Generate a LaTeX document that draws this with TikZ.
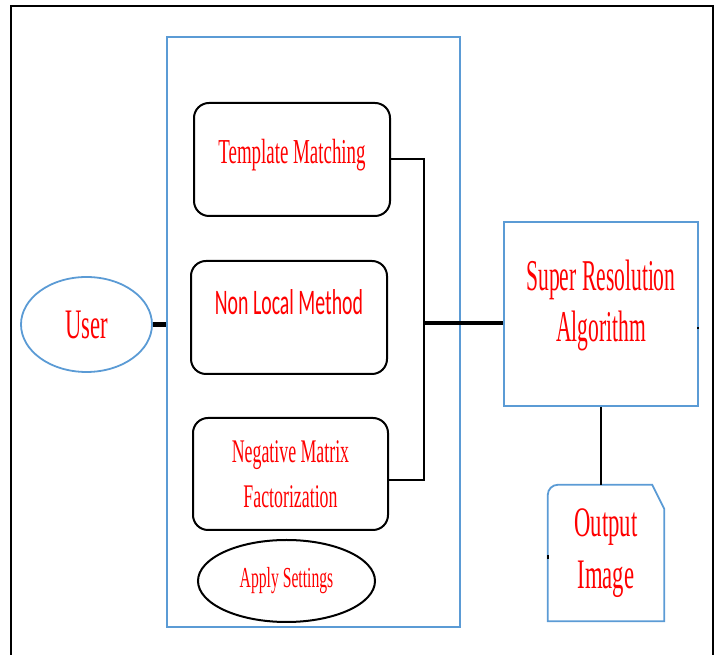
\documentclass[tikz,border=0pt]{standalone}
\usepackage{fontspec}
\usetikzlibrary{shapes.geometric}
\newfontfamily\lblfont[FakeStretch=0.54]{Liberation Serif}
\newfontfamily\srfont[FakeStretch=0.49]{Liberation Serif}
\newfontfamily\lblsans[FakeStretch=0.55]{Carlito}
\definecolor{boxblue}{RGB}{91,155,213}
\tikzset{
  lbl/.style = {text=red, font=\lblfont, align=center, inner sep=0pt},
  bluebox/.style = {draw=boxblue, line width=1.8pt},
  method/.style = {draw, line width=2pt, rounded corners=15pt, lbl,
                   minimum width=196pt, minimum height=113pt},
  wire/.style = {line width=2pt},
  thickwire/.style = {line width=4.5pt}
}

\begin{document}
\begin{tikzpicture}[x=1pt, y=1pt]
	\useasboundingbox (0,0) rectangle (720,655);
	%frame
	\draw[line width=2.2pt] (11,0) -- (11,649) -- (713,649) -- (713,0);
	
	%methods panel
	\node [bluebox, minimum width=293pt, minimum height=590pt] (panel) at (313.5,323){};
	\node [method, text depth=16pt, font=\lblfont\fontsize{35}{42}\selectfont] (tm) at (292,495.5){Template Matching};
	\node [method, text height=10pt, text depth=15pt,
	       font=\lblsans\fontsize{36}{42}\selectfont] (nlm) at (289,337.5){Non Local Method};
	\node [method, minimum width=195pt, minimum height=112pt,
	       font=\lblfont\fontsize{33}{45}\selectfont] (nmf) at (290.5,181){Negative Matrix\\Factorization};
	\node [draw, ellipse, line width=2pt, lbl, minimum width=177pt, minimum height=82pt,
	       font=\lblfont\fontsize{29}{34}\selectfont] (apply) at (286.5,74){Apply Settings};
	
	%user
	\node [bluebox, ellipse, lbl, minimum width=131pt, minimum height=95pt,
	       font=\lblfont\fontsize{42}{50}\selectfont] (user) at (86.5,330.5){User};
	
	%algorithm and output
	\node [bluebox, lbl, minimum width=194pt, minimum height=184pt, text depth=26pt,
	       font=\srfont\fontsize{44}{51}\selectfont] (sr) at (601,341){Super Resolution\\Algorithm};
	\node [lbl, minimum width=116pt, minimum height=136pt,
	       font=\lblfont\fontsize{42}{52}\selectfont] (out) at (606,102){Output\\Image};
	\draw[bluebox] (out.south west) -- ([yshift=-10pt]out.north west)
		arc[start angle=180, end angle=90, radius=10pt]
		-- ([xshift=-12pt]out.north east) -- ([yshift=-24pt]out.north east)
		-- (out.south east) -- cycle;
	
	%connectors
	\coordinate (jn) at (424,332);
	\draw[thickwire] (user.east) -- (user.east -| panel.west);
	\draw[wire] (tm.east) -| (jn) |- ([yshift=-6pt]nmf.east);
	\draw[thickwire] (jn) -- (jn -| sr.west);
	\draw[wire] (sr.south) -- (sr.south |- out.north);
	
	%small ticks
	\draw[line width=2pt] ([yshift=-14pt]sr.east) -- ++(-2,0);
	\draw[line width=2pt] ([yshift=-2pt]out.west) -- ++(0,-4);
\end{tikzpicture}
\end{document}
